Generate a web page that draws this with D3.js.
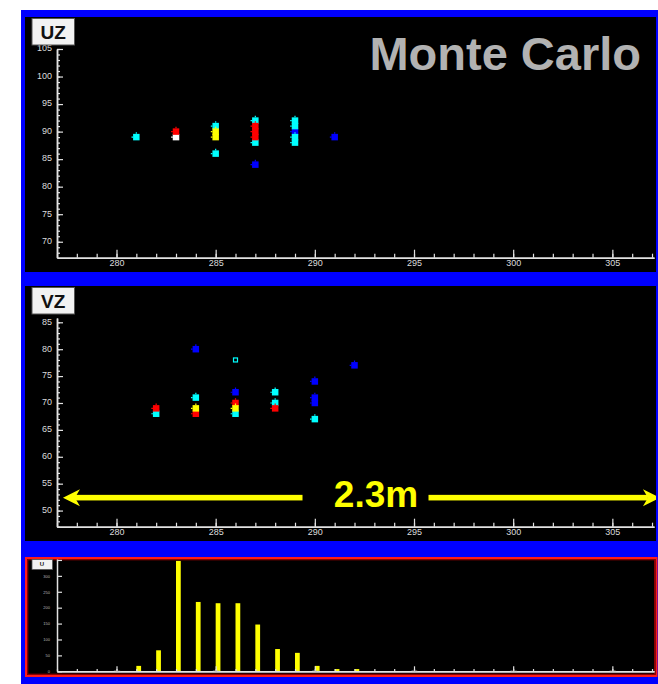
<!DOCTYPE html>
<html><head><meta charset="utf-8">
<script src="https://cdn.jsdelivr.net/npm/d3@7"></script>
<style>html,body{margin:0;padding:0;background:#fff;} svg{display:block;}</style>
</head><body>
<script>
// shared horizontal axis (position along the detector)
const xDomain = [277, 307.1];
const xTickLabels = [280, 285, 290, 295, 300, 305];

// UZ panel
const uzDomain = [67.1, 105];
const uzTickLabels = [70, 75, 80, 85, 90, 95, 100, 105];
const uzBlue   = [[287, 84], [289, 90], [291, 89]];
const uzCyan   = [[281, 89], [285, 91], [285, 86], [287, 92], [287, 88], [289, 92], [289, 91], [289, 89], [289, 88]];
const uzRed    = [[283, 90], [287, 91], [287, 90], [287, 89]];
const uzWhite  = [[283, 89]];
const uzYellow = [[285, 90], [285, 89]];

// VZ panel
const vzDomain = [47, 85.8];
const vzTickLabels = [50, 55, 60, 65, 70, 75, 80, 85];
const vzBlue   = [[284, 80], [286, 72], [290, 74], [290, 71], [290, 70], [292, 77]];
const vzCyan   = [[282, 68], [284, 71], [286, 68], [288, 72], [288, 70], [290, 67]];
const vzRed    = [[282, 69], [284, 68], [286, 70], [288, 69]];
const vzYellow = [[284, 69], [286, 69]];
const vzHollow = [[286, 78]];

// span annotation
const spanFrom = 277.3, spanTo = 307.4, spanLevel = 52.4;
const spanLabel = "2.3m";

// histogram of the U coordinate
const histBins   = [281, 282, 283, 284, 285, 286, 287, 288, 289, 290, 291, 292];
const histCounts = [17, 66, 347, 218, 214, 214, 147, 70, 58, 17, 7, 7];
const histDomain = [0, 353];
const histTickLabels = [0, 50, 100, 150, 200, 250, 300, 350];

const W = 658, H = 684;
const svg = d3.select("body").append("svg").attr("width", W).attr("height", H);
svg.append("rect").attr("width", W).attr("height", H).attr("fill", "#fff");
svg.append("rect").attr("x", 21).attr("y", 10).attr("width", W - 21).attr("height", H - 10).attr("fill", "#0000ff");

const axisColor = "#e2e2e2";
const x = d3.scaleLinear(xDomain, [57, 654]);
const minorX = d3.range(Math.ceil(xDomain[0]), Math.floor(xDomain[1]) + 1);

function styleAxis(g) {
  g.selectAll("path.domain").attr("stroke", axisColor).attr("stroke-width", 1.5);
  g.selectAll(".tick line").attr("stroke", axisColor).attr("stroke-width", 1.2);
  g.selectAll("text").attr("fill", "#dcdcdc").attr("font-family", "Liberation Sans, Arial, sans-serif");
}

function scatterPanel(top, domain, tickLabels, series, title) {
  const plotTop = top + 32, plotBottom = top + 240.7;
  svg.append("rect").attr("x", 25).attr("y", top).attr("width", 631).attr("height", 255).attr("fill", "#000");
  const y = d3.scaleLinear(domain, [plotBottom, plotTop]);
  const g = svg.append("g");

  // minor ticks every unit
  const minorY = d3.range(Math.ceil(domain[0]), Math.floor(domain[1]) + 1);
  g.append("g").attr("transform", `translate(57,0)`)
    .call(d3.axisLeft(y).tickValues(minorY).tickSizeInner(-3).tickSizeOuter(0).tickFormat(""))
    .call(styleAxis);
  g.append("g").attr("transform", `translate(0,${plotBottom})`)
    .call(d3.axisBottom(x).tickValues(minorX).tickSizeInner(-4).tickSizeOuter(0).tickFormat(""))
    .call(styleAxis);
  // major ticks with labels
  g.append("g").attr("transform", `translate(57,0)`)
    .call(d3.axisLeft(y).tickValues(tickLabels).tickSizeInner(-6).tickSizeOuter(0).tickPadding(5))
    .call(styleAxis)
    .call(a => a.selectAll("text").attr("font-size", 9).attr("dy", "0.2em"));
  g.append("g").attr("transform", `translate(0,${plotBottom})`)
    .call(d3.axisBottom(x).tickValues(xTickLabels).tickSizeInner(-8).tickSizeOuter(0).tickPadding(2))
    .call(styleAxis)
    .call(a => a.selectAll("text").attr("font-size", 9));

  // markers
  const s = 6.5;
  series.forEach(([pts, color]) => {
    const m = g.append("g").attr("fill", color);
    m.selectAll("rect").data(pts).join("rect")
      .attr("x", d => x(d[0]) - s / 2).attr("y", d => y(d[1]) - s / 2)
      .attr("width", s).attr("height", s);
    m.selectAll("path").data(pts).join("path")
      .attr("stroke", color).attr("stroke-width", 1.2).attr("fill", "none")
      .attr("d", d => {
        const cx = x(d[0]), cy = y(d[1]);
        return `M${cx},${cy - s / 2}V${cy - s / 2 - 1.6}M${cx - s / 2},${cy}H${cx - s / 2 - 1.6}`;
      });
  });

  // panel title box
  svg.append("rect").attr("x", 32).attr("y", top + 1.5).attr("width", 42.5).attr("height", 26.5)
    .attr("fill", "#f2f2f2").attr("stroke", "#555").attr("stroke-width", 1);
  svg.append("text").attr("x", 53.2).attr("y", top + 21.5).attr("text-anchor", "middle")
    .attr("font-family", "Liberation Sans, Arial, sans-serif").attr("font-weight", "bold")
    .attr("font-size", 19).attr("fill", "#111").text(title);
  return { g, y };
}

// UZ view
const p1 = scatterPanel(17, uzDomain, uzTickLabels,
  [[uzBlue, "#0000ff"], [uzCyan, "#00ffff"], [uzWhite, "#ffffff"], [uzRed, "#ff0000"], [uzYellow, "#ffff00"]], "UZ");

svg.append("text").attr("x", 641).attr("y", 69.5).attr("text-anchor", "end")
  .attr("font-family", "Liberation Sans, Arial, sans-serif").attr("font-weight", "bold")
  .attr("font-size", 47).attr("fill", "#b2b2b2").text("Monte Carlo");

// VZ view
const p2 = scatterPanel(286, vzDomain, vzTickLabels,
  [[vzBlue, "#0000ff"], [vzCyan, "#00ffff"], [vzRed, "#ff0000"], [vzYellow, "#ffff00"]], "VZ");

p2.g.selectAll("rect.hollow").data(vzHollow).join("rect").attr("class", "hollow")
  .attr("x", d => x(d[0]) - 2).attr("y", d => p2.y(d[1]) - 2).attr("width", 4).attr("height", 4)
  .attr("fill", "none").attr("stroke", "#00ffff").attr("stroke-width", 1.2);

// span arrow with its length label
svg.append("clipPath").attr("id", "vzclip").append("rect")
  .attr("x", 25).attr("y", 286).attr("width", 631).attr("height", 255);
const ay = p2.y(spanLevel);
const ax0 = x(spanFrom), ax1 = x(spanTo);
const arrow = svg.append("g").attr("clip-path", "url(#vzclip)").attr("fill", "#ffff00");
const gapL = 302.5, gapR = 428.5, hw = 2.8;
arrow.append("rect").attr("x", ax0 + 12).attr("y", ay - hw).attr("width", gapL - ax0 - 12).attr("height", hw * 2);
arrow.append("rect").attr("x", gapR).attr("y", ay - hw).attr("width", ax1 - 12 - gapR).attr("height", hw * 2);
arrow.append("path").attr("d", `M${ax0},${ay}L${ax0 + 17},${ay - 8.5}L${ax0 + 12},${ay}L${ax0 + 17},${ay + 8.5}Z`);
arrow.append("path").attr("d", `M${ax1},${ay}L${ax1 - 17},${ay - 8.5}L${ax1 - 12},${ay}L${ax1 - 17},${ay + 8.5}Z`);
svg.append("text").attr("x", 376).attr("y", ay + 9).attr("text-anchor", "middle")
  .attr("font-family", "Liberation Sans, Arial, sans-serif").attr("font-weight", "bold")
  .attr("font-size", 37).attr("fill", "#ffff00").text(spanLabel);

// histogram panel
svg.append("rect").attr("x", 26).attr("y", 558).attr("width", 630.5).attr("height", 118)
  .attr("fill", "#000").attr("stroke", "#ff1c1c").attr("stroke-width", 2);
svg.append("rect").attr("x", 27.7).attr("y", 559.7).attr("width", 627).attr("height", 114.6)
  .attr("fill", "none").attr("stroke", "#9a0000").attr("stroke-width", 1.2);

const hy = d3.scaleLinear(histDomain, [671.3, 559]);
const hg = svg.append("g");
hg.selectAll("rect").data(histBins).join("rect")
  .attr("x", (d) => x(d)).attr("width", (d) => x(d + 0.24) - x(d))
  .attr("y", (d, i) => hy(histCounts[i])).attr("height", (d, i) => hy(0) - hy(histCounts[i]))
  .attr("fill", "#ffff00");

hg.append("g").attr("transform", "translate(0,671.3)")
  .call(d3.axisBottom(x).tickValues(minorX).tickSizeInner(-2.3).tickSizeOuter(0).tickFormat(""))
  .call(styleAxis);
hg.append("g").attr("transform", "translate(0,671.3)")
  .call(d3.axisBottom(x).tickValues(xTickLabels).tickSizeInner(-5).tickSizeOuter(0).tickPadding(-1.5))
  .call(styleAxis)
  .call(a => a.selectAll("text").attr("font-size", 4).attr("fill", "#aaa"));
hg.append("g").attr("transform", "translate(57,0)")
  .call(d3.axisLeft(hy).tickValues(histTickLabels).tickSizeInner(-5).tickSizeOuter(0).tickPadding(7))
  .call(styleAxis)
  .call(a => a.selectAll("text").attr("font-size", 4).attr("fill", "#bbb"));

svg.append("rect").attr("x", 32).attr("y", 559.5).attr("width", 20.5).attr("height", 10)
  .attr("fill", "#f2f2f2").attr("stroke", "#555").attr("stroke-width", 0.8);
svg.append("text").attr("x", 42).attr("y", 566).attr("text-anchor", "middle")
  .attr("font-family", "Liberation Sans, Arial, sans-serif").attr("font-weight", "bold")
  .attr("font-size", 6).attr("fill", "#111").text("U");
</script>
</body></html>
